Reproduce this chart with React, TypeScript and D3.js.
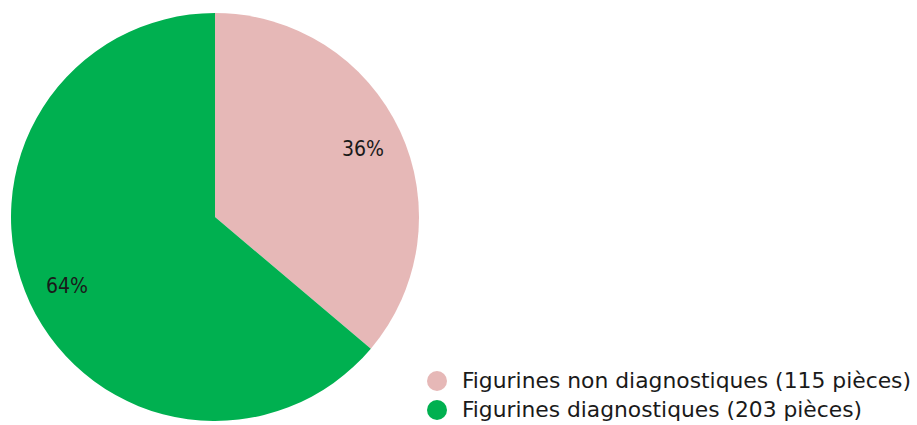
import React from 'react';
import * as d3 from 'd3';

const categories = ['Figurines non diagnostiques (115 pièces)', 'Figurines diagnostiques (203 pièces)'];
const counts = [115, 203];
const percentLabels = ['36%', '64%'];
const colors = ['#E6B8B7', '#00B050'];

const width = 917;
const height = 425;
const cx = 215;
const cy = 217;
const radius = 204;

const App: React.FC = () => {
  const pie = d3.pie<number>().sort(null).value((d) => d);
  const arcs = pie(counts);
  const arc = d3.arc<d3.PieArcDatum<number>>().innerRadius(0).outerRadius(radius);
  const labelArc = d3.arc<d3.PieArcDatum<number>>().innerRadius(radius * 0.8).outerRadius(radius * 0.8);

  return (
    <svg
      width={width}
      height={height}
      style={{ position: 'absolute', left: 0, top: 0, fontFamily: '"DejaVu Sans Condensed", "DejaVu Sans", sans-serif' }}
    >
      <rect width={width} height={height} fill="#fff" />
      <g transform={`translate(${cx},${cy})`}>
        {arcs.map((a, i) => (
          <path key={i} d={arc(a) ?? ''} fill={colors[i]} />
        ))}
        {arcs.map((a, i) => {
          const [x, y] = labelArc.centroid(a);
          return (
            <text key={i} x={x} y={y} dy="0.35em" textAnchor="middle" fontSize={21} fill="#1a1a1a">
              {percentLabels[i]}
            </text>
          );
        })}
      </g>
      <g transform="translate(437,381)">
        {categories.map((c, i) => (
          <g key={i} transform={`translate(0,${i * 29})`}>
            <circle r={10} fill={colors[i]} />
            <text x={25} dy="0.35em" fontSize={21} fill="#1a1a1a" textLength={i === 0 ? 449 : 400} lengthAdjust="spacingAndGlyphs">
              {c}
            </text>
          </g>
        ))}
      </g>
    </svg>
  );
};

export default App;
